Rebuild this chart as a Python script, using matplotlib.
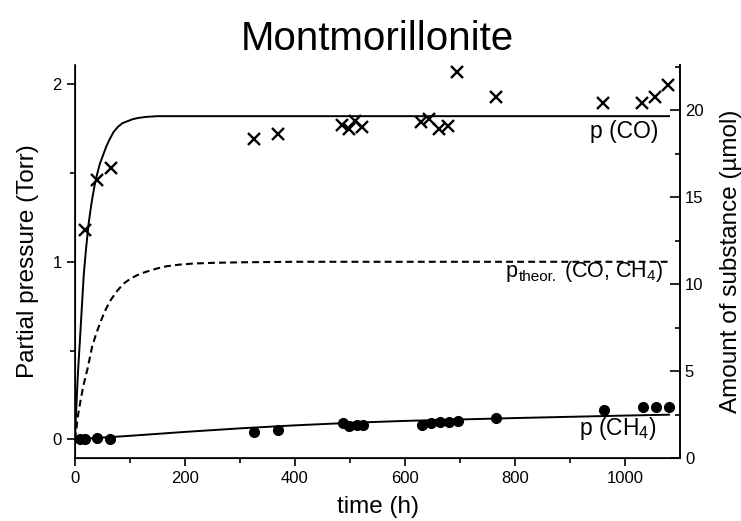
import matplotlib
matplotlib.use("Agg")
import matplotlib.pyplot as plt
from matplotlib.transforms import offset_copy

plt.rcParams["font.family"] = ["Liberation Sans", "DejaVu Sans"]
plt.rcParams["mathtext.fontset"] = "custom"
plt.rcParams["mathtext.rm"] = "Liberation Sans"
plt.rcParams["mathtext.it"] = "Liberation Sans"
plt.rcParams["mathtext.default"] = "regular"

# measured CO partial pressure (Torr)
co_time = [18, 40, 65, 325, 370, 485, 499, 509, 522, 629, 644, 662, 678, 695,
           765, 960, 1031, 1055, 1078]
co_p = [1.18, 1.46, 1.53, 1.69, 1.72, 1.77, 1.75, 1.79, 1.76, 1.787, 1.806,
        1.746, 1.764, 2.068, 1.927, 1.896, 1.896, 1.927, 1.993]

# measured CH4 partial pressure (Torr)
ch4_time = [9, 18, 40, 64, 326, 370, 487, 499, 512, 524, 630, 647, 664, 680,
            696, 765, 962, 1033, 1057, 1080]
ch4_p = [0.0, 0.0, 0.007, 0.0, 0.04, 0.05, 0.094, 0.073, 0.083, 0.083, 0.079,
         0.094, 0.097, 0.097, 0.103, 0.12, 0.163, 0.182, 0.182, 0.182]

# fitted curves
co_fit_t = [0, 1, 2, 3, 5, 7, 9, 12, 16, 20, 25, 30, 35, 40, 45, 51, 57, 63,
            70, 78, 86, 94, 105, 115, 130, 150, 200, 1080]
co_fit_p = [0, 0.08, 0.15, 0.22, 0.35, 0.46, 0.56, 0.72, 0.93, 1.07, 1.22,
            1.33, 1.42, 1.49, 1.55, 1.60, 1.65, 1.69, 1.73, 1.76, 1.78, 1.79,
            1.803, 1.81, 1.816, 1.82, 1.82, 1.82]

ch4_fit_t = [0, 10, 50, 100, 200, 300, 400, 500, 600, 700, 800, 900, 1000, 1080]
ch4_fit_p = [0, 0.002, 0.01, 0.02, 0.042, 0.062, 0.079, 0.093, 0.104, 0.112,
             0.12, 0.127, 0.134, 0.139]

theor_t = [0, 3, 6, 10, 15, 19, 23, 27, 31, 38, 45, 54, 64, 75, 88, 100, 112,
           124, 136, 150, 167, 190, 215, 250, 300, 400, 1085]
theor_p = [0, 0.07, 0.145, 0.216, 0.30, 0.35, 0.40, 0.46, 0.52, 0.59, 0.65,
           0.72, 0.78, 0.83, 0.876, 0.903, 0.923, 0.938, 0.95, 0.963, 0.975,
           0.984, 0.99, 0.994, 0.997, 1.0, 1.0]


def main():
    fig = plt.figure(figsize=(7.41, 5.21), dpi=100)
    ax = fig.add_axes([0.1012, 0.1209, 0.8165, 0.7543])

    ax.plot(co_fit_t, co_fit_p, color="black", lw=1.4)
    ax.plot(ch4_fit_t, ch4_fit_p, color="black", lw=1.4)
    ax.plot(theor_t, theor_p, color="black", lw=1.5, dashes=(3.3, 2.0))
    ax.plot(co_time, co_p, ls="none", marker="x", ms=9, mew=1.7, color="black")
    ax.plot(ch4_time, ch4_p, ls="none", marker="o", ms=7, color="black")

    ax.set_xlim(0, 1100)
    ax.set_ylim(-0.105, 2.108)
    ax.set_xticks([0, 200, 400, 600, 800, 1000])
    ax.set_xticks(range(100, 1100, 200), minor=True)
    ax.set_yticks([0, 1, 2])
    ax.set_yticks([0.5, 1.5], minor=True)

    ax.spines["top"].set_visible(False)
    for s in ["left", "bottom", "right"]:
        ax.spines[s].set_linewidth(1.2)
    ax.tick_params(which="major", length=6, width=1.2, labelsize=12, direction="out")
    ax.tick_params(which="minor", length=3.5, width=1.2, direction="out")

    ax.set_xlabel("time (h)", fontsize=17.5, labelpad=7)
    ax.set_ylabel("Partial pressure (Torr)", fontsize=17.5, labelpad=10)
    ax.set_title("Montmorillonite", fontsize=29, pad=11)

    # amount of substance axis
    ax2 = ax.twinx()
    ax2.set_ylim(0, 22.6)
    ax2.set_yticks([0, 5, 10, 15, 20])
    ax2.set_yticks([2.5, 7.5, 12.5, 17.5, 22.5], minor=True)
    ax2.spines["top"].set_visible(False)
    ax2.spines["right"].set_linewidth(1.2)
    ax2.tick_params(which="major", length=7, width=1.2, labelsize=12, direction="in")
    ax2.tick_params(which="minor", length=3.5, width=1.2, direction="in")
    ax2.set_ylabel("Amount of substance (µmol)", fontsize=17.5, labelpad=12)

    ax.text(1060, 1.695, "p (CO)", fontsize=16.5, ha="right", va="baseline")
    ax.text(1058, 0.024, r"p (CH$_{4}$)", fontsize=16.5, ha="right", va="baseline")

    # p_theor. label built from pieces so the subscript can be sized freely
    renderer = fig.canvas.get_renderer()
    t1 = ax.text(1069, 0.916, r"(CO, CH$_{4}$)", fontsize=15.5, ha="right",
                 va="baseline")
    w1 = t1.get_window_extent(renderer).width * 72 / fig.dpi
    tr2 = offset_copy(ax.transData, fig=fig, x=-(w1 + 5), y=-3, units="points")
    t2 = ax.text(1069, 0.916, "theor.", fontsize=11, ha="right", va="baseline",
                 transform=tr2)
    w2 = t2.get_window_extent(renderer).width * 72 / fig.dpi
    tr3 = offset_copy(ax.transData, fig=fig, x=-(w1 + 5 + w2 + 0.5), y=0,
                      units="points")
    ax.text(1069, 0.916, "p", fontsize=15.5, ha="right", va="baseline",
            transform=tr3)

    fig.savefig("out.png", dpi=100)


if __name__ == "__main__":
    main()
